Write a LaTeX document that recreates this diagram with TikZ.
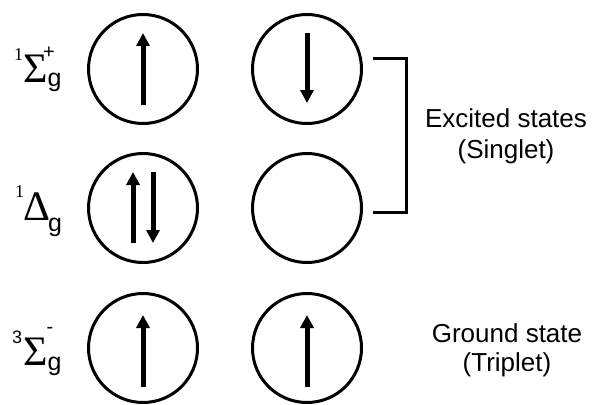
\documentclass[tikz,border=0pt]{standalone}
\usepackage{fontspec}
\setmainfont{Liberation Sans}
\newfontfamily\serifface{Liberation Serif}
\usetikzlibrary{arrows.meta}
\begin{document}
\begin{tikzpicture}[x=1pt,y=-1pt,
  orbital/.style={circle, draw, line width=3pt, minimum size=109pt, inner sep=0pt},
  spin/.style={line width=5pt, -{Triangle[width=13pt,length=13pt]}},
  bracket/.style={line width=3pt, line join=miter},
  term/.style={inner sep=0pt, anchor=base west, font=\serifface\fontsize{42}{42}\selectfont},
  mult/.style={inner sep=0pt, anchor=base west, font=\fontsize{18}{18}\selectfont},
  multserif/.style={inner sep=0pt, anchor=base west, font=\serifface\fontsize{18}{18}\selectfont},
  sub/.style={inner sep=0pt, anchor=base west, font=\fontsize{25}{25}\selectfont},
  sign/.style={inner sep=0pt, font=\fontsize{20}{20}\selectfont},
  caption/.style={inner sep=0pt, anchor=base, font=\fontsize{26}{26}\selectfont}]
\useasboundingbox (0,0) rectangle (593,404);

% orbitals
\node[orbital] (c11) at (143,69) {};
\node[orbital] (c12) at (307,69) {};
\node[orbital] (c21) at (143,208) {};
\node[orbital] (c22) at (307,208) {};
\node[orbital] (c31) at (143,348) {};
\node[orbital] (c32) at (307,348) {};

% electron spins
\coordinate (s11a) at (143,105); \coordinate (s11b) at (143,33);
\coordinate (s12a) at (307,33);  \coordinate (s12b) at (307,103);
\coordinate (s21a) at (133,243); \coordinate (s21b) at (133,172);
\coordinate (s21c) at (153,172); \coordinate (s21d) at (153,243);
\coordinate (s31a) at (143,387); \coordinate (s31b) at (143,315);
\coordinate (s32a) at (307,387); \coordinate (s32b) at (307,315);
\draw[spin] (s11a) -- (s11b);
\draw[spin] (s12a) -- (s12b);
\draw[spin] (s21a) -- (s21b);
\draw[spin] (s21c) -- (s21d);
\draw[spin] (s31a) -- (s31b);
\draw[spin] (s32a) -- (s32b);

% term symbols
\node[multserif] (m1) at (14,60) {1};
\node[term] (t1) at (23,82) {Σ};
\node[sign] (p1) at (49,52.5) {+};
\node[sub] (g1) at (47.5,86) {g};

\node[multserif] (m2) at (15,197) {1};
\node[term] (t2) at (23,220) {Δ};
\node[sub] (g2) at (48,231) {g};

\node[mult] (m3) at (12,343) {3};
\node[term] (t3) at (23,365) {Σ};
\node[sign] (p3) at (50,330) {-};
\node[sub] (g3) at (47.5,370) {g};

% bracket around the singlet states
\coordinate (b1) at (373,58);
\coordinate (b2) at (406,58);
\coordinate (b3) at (406,212);
\coordinate (b4) at (373,212);
\draw[bracket] (b1) -- (b2) -- (b3) -- (b4);

% captions
\node[caption] (e1) at (506,127) {Excited states};
\node[caption] (e2) at (506,158) {(Singlet)};
\node[caption] (gs1) at (507,342) {Ground state};
\node[caption] (gs2) at (507,371) {(Triplet)};
\end{tikzpicture}
\end{document}
